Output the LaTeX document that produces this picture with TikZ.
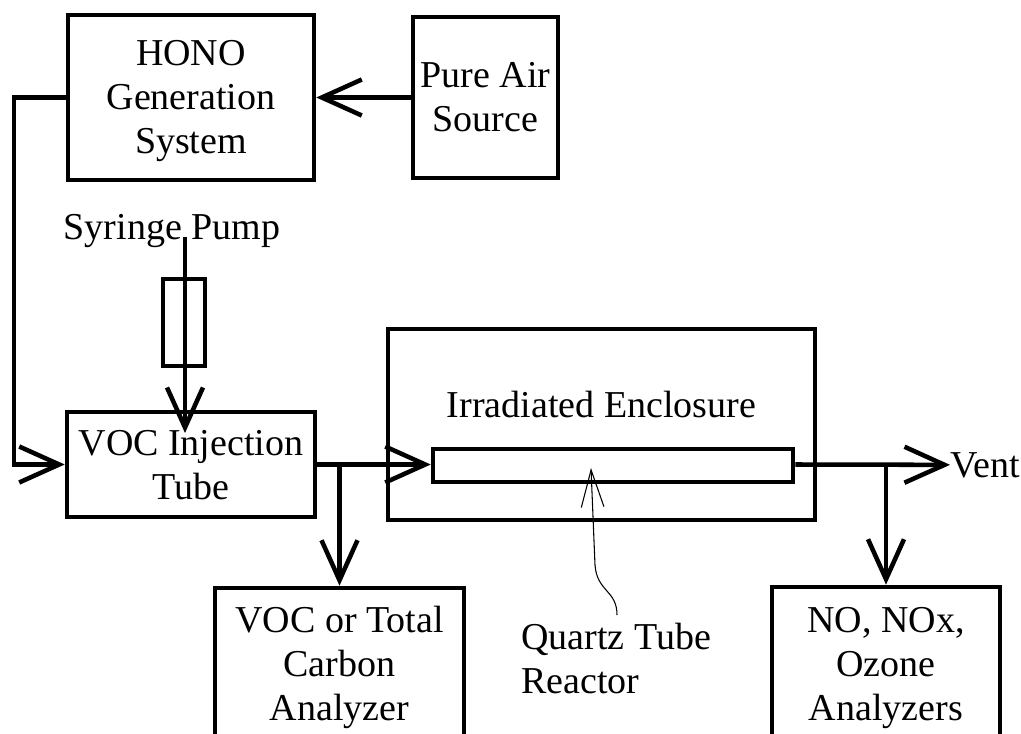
\documentclass[tikz,border=0pt]{standalone}
\usepackage{fontspec}
\setmainfont{Liberation Serif}
\usetikzlibrary{arrows.meta}
\newcommand\lblfont{\fontsize{28.5pt}{33pt}\selectfont}
\begin{document}
\begin{tikzpicture}[x=0.75pt,y=-0.75pt,
  box/.style={draw,line width=3.4pt,inner sep=0pt},
  flow/.style={line width=3.4pt,-{Straight Barb[length=30pt,width=27pt]}},
  pointer/.style={line width=0.8pt,-{Straight Barb[length=28pt,width=17pt]}},
  lbl/.style={font=\lblfont,inner sep=0pt,align=center}]
\useasboundingbox (0,0) rectangle (1021,734);
\clip (0,0) rectangle (1021,734);
\fill[white] (0,0) rectangle (1021,734);

% boxes
\node[box,minimum width=184.5pt,minimum height=123.75pt] (hono) at (191,97.5) {};
\node[box,minimum width=108.75pt,minimum height=120.75pt] (pure) at (485.5,97.5) {};
\node[box,minimum width=31.5pt,minimum height=65.25pt] (syr) at (184,322.5) {};
\node[box,minimum width=186pt,minimum height=78.75pt] (voc) at (191,464.5) {};
\node[box,minimum width=320.25pt,minimum height=143.25pt] (encl) at (601.5,424.5) {};
\node[box,minimum width=270pt,minimum height=24.75pt] (tube) at (613,465.5) {};
\node[box,minimum width=186.75pt,minimum height=115.5pt] (ana1) at (339.5,665) {};
\node[box,minimum width=171pt,minimum height=115.5pt] (ana2) at (886,664) {};

% box texts (anchored at the baseline of the last line)
\node[lbl,anchor=base] (honotxt) at (191,154) {HONO\\Generation\\System};
\node[lbl,anchor=base] (puretxt) at (485.5,132) {Pure Air\\Source};
\node[lbl,anchor=base] (voctxt) at (191,499) {VOC Injection\\Tube};
\node[lbl,anchor=base] (encltxt) at (601.5,417) {Irradiated Enclosure};
\node[lbl,anchor=base] (ana1txt) at (339.5,720) {VOC or Total\\Carbon\\Analyzer};
\node[lbl,anchor=base] (ana2txt) at (886,720) {NO, NOx,\\Ozone\\Analyzers};

% free labels
\node[lbl,anchor=base] (sp) at (172,240) {Syringe Pump};
\node[lbl,anchor=base west,align=left] (qt) at (521,693) {Quartz Tube\\Reactor};
\node[lbl,anchor=base west] (vent) at (950,477) {Vent};

% coordinates
\coordinate (c1) at (14,97.5);
\coordinate (c2) at (14,464.5);
\coordinate (sptop) at (185,237);
\coordinate (sptip) at (185,433);
\coordinate (b1) at (ana1.north |- voc.east);
\coordinate (b2) at (ana2.north |- voc.east);
\coordinate (qstart) at (617,615);
\coordinate (qtip) at (591,468);

% connectors
\draw[flow] (pure.west) -- (hono.east);
\draw[flow] (hono.west) -- (c1) -- (c2) -- (voc.west);
\draw[flow] (sptop) -- (sptip);
\draw[flow] (voc.east) -- (voc.east -| tube.west);
\draw[flow] (b1) -- (ana1.north);
\draw[flow] (tube.east |- voc.east) -- (vent.west);
\draw[flow] (b2) -- (ana2.north);
\draw[pointer] (qstart) .. controls (617,590) and (597,592) .. (595,565) -- (qtip);
\end{tikzpicture}
\end{document}
